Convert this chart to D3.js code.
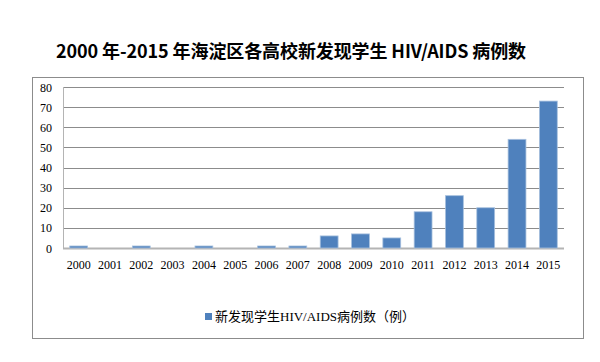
<!DOCTYPE html>
<html>
<head>
<meta charset="utf-8">
<script src="https://cdn.jsdelivr.net/npm/d3@7"></script>
<style>
  body { margin: 0; background: #fff; }
  svg { display: block; }
</style>
</head>
<body>
<div id="chart"></div>
<script>
// data
const years = ['2000', '2001', '2002', '2003', '2004', '2005', '2006', '2007',
    '2008', '2009', '2010', '2011', '2012', '2013', '2014', '2015']
const cases = [1, 0, 1, 0, 1, 0, 1, 1, 6, 7, 5, 18, 26, 20, 54, 73]
const yTicks = [0, 10, 20, 30, 40, 50, 60, 70, 80]
const seriesName = '新发现学生HIV/AIDS病例数（例）'
const title = '2000 年-2015 年海淀区各高校新发现学生 HIV/AIDS 病例数'

const width = 600
const height = 362
const margin = { top: 87, bottom: 114, left: 63, right: 36 }
const labelFont = '"Liberation Serif", "Noto Sans CJK SC", serif'

const svg = d3.select('#chart')
    .append('svg')
    .attr('width', width)
    .attr('height', height)

// title
svg.append('text')
    .attr('x', 291)
    .attr('y', 58)
    .attr('text-anchor', 'middle')
    .style('font-family', '"Noto Sans CJK SC", sans-serif')
    .style('font-weight', 'bold')
    .style('font-size', '18px')
    .style('letter-spacing', '-0.1px')
    .text(title)

// chart frame
svg.append('rect')
    .attr('x', 32.5)
    .attr('y', 77.5)
    .attr('width', 551)
    .attr('height', 261)
    .attr('fill', 'none')
    .attr('stroke', '#8c8c8c')

/* SCALES */
const xScale = d3.scaleBand()
    .domain(years)
    .range([margin.left, width - margin.right])
    .paddingInner(0.43)
    .paddingOuter(0.215)

const yScale = d3.scaleLinear()
    .domain([0, 80])
    .range([height - margin.bottom, margin.top])

// grid
svg.append('g')
    .selectAll('line')
    .data(yTicks)
    .join('line')
    .attr('x1', margin.left)
    .attr('x2', width - margin.right)
    .attr('y1', d => Math.round(yScale(d)) + 0.5)
    .attr('y2', d => Math.round(yScale(d)) + 0.5)
    .attr('stroke', d => d == 0 ? '#b4b4b4' : '#8c8c8c')
    .attr('stroke-width', d => d == 0 ? 2 : 1)

// left axis line
svg.append('line')
    .attr('x1', margin.left + 0.5)
    .attr('x2', margin.left + 0.5)
    .attr('y1', margin.top)
    .attr('y2', yScale(0))
    .attr('stroke', '#b4b4b4')

// bars
svg.selectAll('rect.bar')
    .data(years.map((y, i) => ({ year: y, value: cases[i] })))
    .join('rect')
    .attr('class', 'bar')
    .attr('x', d => xScale(d.year))
    .attr('y', d => yScale(d.value))
    .attr('width', xScale.bandwidth())
    .attr('height', d => yScale(0) - yScale(d.value))
    .attr('fill', '#4f81bd')
    .attr('stroke', '#a7c0de')
    .attr('stroke-width', 0.8)

// y labels
svg.append('g')
    .selectAll('text')
    .data(yTicks)
    .join('text')
    .attr('x', 52)
    .attr('y', d => yScale(d) + 4.5)
    .attr('text-anchor', 'end')
    .style('font-family', labelFont)
    .style('font-size', '12px')
    .text(d => d)

// x labels
svg.append('g')
    .selectAll('text')
    .data(years)
    .join('text')
    .attr('x', d => xScale(d) + xScale.bandwidth() / 2)
    .attr('y', 269)
    .attr('text-anchor', 'middle')
    .style('font-family', labelFont)
    .style('font-size', '12px')
    .text(d => d)

// legend
svg.append('rect')
    .attr('x', 205)
    .attr('y', 313)
    .attr('width', 7)
    .attr('height', 7)
    .attr('fill', '#4f81bd')

svg.append('text')
    .attr('x', 215)
    .attr('y', 321)
    .style('font-family', labelFont)
    .style('font-size', '13px')
    .text(seriesName)
</script>
</body>
</html>
